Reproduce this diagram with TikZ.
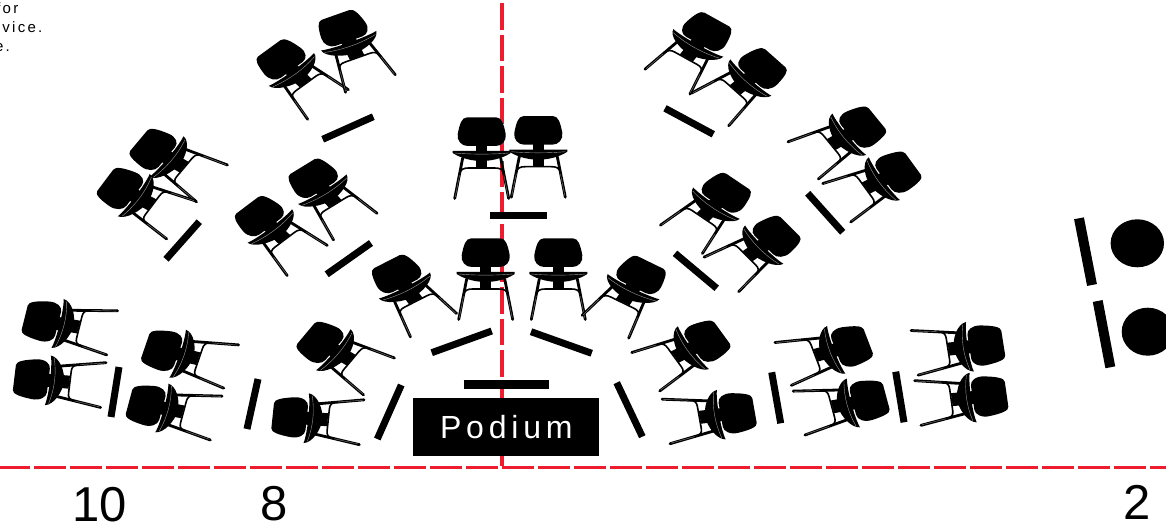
\documentclass[tikz,border=0pt]{standalone}
\usepackage{fontspec}
\setmainfont{Liberation Sans}
\newfontfamily\spaced[LetterSpace=15]{Liberation Sans}
\definecolor{redline}{RGB}{237,28,46}
\tikzset{
  barline/.style={line width=7pt,black},
  redh/.style={redline,line width=3pt,dash pattern=on 32pt off 4pt},
  redv/.style={redline,line width=3.5pt,dash pattern=on 26.5pt off 5pt},
  leg/.style={black,line width=2.8pt},
  legin/.style={black!50,line width=.4pt},
  numlabel/.style={inner sep=0pt,anchor=base,font=\fontsize{49}{49}\selectfont},
  notelabel/.style={inner sep=0pt,anchor=base east,font=\spaced\fontsize{15}{15}\selectfont},
  chair/.pic={
    \fill[black] (-15,-14.5) -- (15,-14.5) .. controls (20,-14.5) and (22,-8) .. (24,2)
      .. controls (25,9) and (20,14) .. (14,14) -- (-14,14)
      .. controls (-20,14) and (-25,9) .. (-24,2)
      .. controls (-22,-8) and (-20,-14.5) .. (-15,-14.5) -- cycle;
    \fill[black] (-5.5,13) rectangle (5.5,20);
    \fill[black] (-5.5,26) rectangle (5.5,35);
    \draw[leg,line cap=round] (-19,26) -- (-27,66.5);
    \draw[leg,line cap=round] (19,26) -- (27,66.5);
    \draw[legin] (-21.5,40) -- (-26.5,65);
    \draw[legin] (21.5,40) -- (26.5,65);
    \draw[black,line width=1.6pt] (-22.5,43) .. controls (-21.5,37) and (-18,36) .. (-13,36)
      -- (13,36) .. controls (18,36) and (21.5,37) .. (22.5,43);
    \fill[black] (-29,19) -- (29,19) -- (29,21) .. controls (20,27) and (8,29) .. (0,29)
      .. controls (-8,29) and (-20,27) .. (-29,21) -- cycle;
    \draw[white!60!black,line width=.4pt] (-27,21) .. controls (-10,22.5) and (10,22.5) .. (27,21);
  },
  chairb/.pic={
    \fill[black] (-12.5,-14.5) -- (12.5,-14.5) .. controls (16.5,-14.5) and (18.5,-8) .. (20,2)
      .. controls (21,9) and (17,14) .. (12,14) -- (-12,14)
      .. controls (-17,14) and (-21,9) .. (-20,2)
      .. controls (-18.5,-8) and (-16.5,-14.5) .. (-12.5,-14.5) -- cycle;
    \fill[black] (-6.5,13) rectangle (6.5,17);
    \fill[black] (-6.5,22) rectangle (6.5,31.5);
    \draw[leg,line cap=round] (-15,21) -- (-22.5,60);
    \draw[leg,line cap=round] (15,21) -- (22.5,60);
    \draw[legin] (-18,36) -- (-22,59);
    \draw[legin] (18,36) -- (22,59);
    \draw[black,line width=1.6pt] (-18.5,38.5) .. controls (-17.5,33) and (-15,32) .. (-11,32)
      -- (11,32) .. controls (15,32) and (17.5,33) .. (18.5,38.5);
    \fill[black] (-25,13.5) .. controls (-15,16) and (15,16) .. (25,13.5)
      .. controls (24,21) and (10,27) .. (0,27)
      .. controls (-10,27) and (-24,21) .. (-25,13.5) -- cycle;
    \draw[white!60!black,line width=.4pt] (-23,16.5) .. controls (-8,20) and (8,20) .. (23,16.5);
  }
}
\begin{document}
\begin{tikzpicture}[x=1pt,y=-1pt]
\useasboundingbox (0,0) rectangle (1166,526);
\fill[white] (0,0) rectangle (1166,526);
% red axes
\draw[redv] (502,3.5) -- (502,466);
\draw[redh] (-2.5,467.7) -- (1166,467.7);
% upright chairs
\foreach \cx/\cy in {485.7/253, 558.3/253, 481.7/132, 538.3/130.7}{
  \pic at (\cx,\cy) {chair};
}
% turned chairs: back centre x / y / rotation
\foreach \cx/\cy/\ca in {
  41.7/320.7/78.3, 31.7/379/84.2, 162/350/74, 146/405/77.4,
  290/417/85, 320/342/55, 396/274/31.4,
  153/149/55, 120/188/57.9, 280.7/59.3/41.1, 342.3/28.3/23,
  259/216/42.1, 312.7/178.3/36.3,
  707.3/31.7/-33.6, 762.7/68.3/-46.8, 862.7/126.7/-55.8, 898.3/171.7/-58.8,
  726.7/192.7/-39, 776.7/236/-50.2,
  641.7/275/-30.3, 707.3/340.7/-58.8, 737.3/412.7/-81.6,
  851.7/345.7/-72.3, 869.3/400/-77.4, 986/345/-82.5, 989.3/396/-83.3
}{
  \pic[xscale=1.2,rotate=\ca] at (\cx,\cy) {chairb};
}
% bars
\foreach \ax/\ay/\bx/\by in {
  119/367/111/417, 258/379/247/429, 401.3/385/377.3/439,
  431.7/352.7/491.7/331, 326.7/274.3/371/243, 166/259.3/199.3/221.7,
  322.7/139.3/373.3/116.7, 665/108.3/713.3/134.3, 807.7/193.3/842.7/232.3,
  675/253.3/716.7/288.3, 531/331.7/591.7/353.3, 616.7/382.7/642.3/436.7,
  771.7/372.3/780.7/423.3, 895.7/371.7/904/422.3
}{
  \draw[barline] (\ax,\ay) -- (\bx,\by);
}
\draw[barline,line width=6.5pt] (490,215.3) -- (547.3,215.3);
\draw[barline,line width=9pt] (463.7,384.3) -- (549.3,384.3);
\draw[barline,line width=10pt] (1079,218.3) -- (1092,285);
\draw[barline,line width=10pt] (1097.7,301) -- (1110.3,367.3);
% circles
\fill[black] (1137.3,243.3) ellipse [x radius=26.7pt,y radius=24pt];
\fill[black] (1147.7,331.7) ellipse [x radius=26pt,y radius=24pt];
% podium
\node[fill=black,text=white,minimum width=186pt,minimum height=57.7pt,inner sep=0pt,
      font=\spaced\fontsize{32}{32}\selectfont] (podium) at (506.3,427.2) {Podium};
% numbers
\node[numlabel] (n10) at (99.5,521) {10};
\node[numlabel] (n8) at (273.7,520.5) {8};
\node[numlabel] (n2) at (1137,519.5) {2};
% clipped note at the corner
\node[notelabel] (note1) at (18.5,14) {for};
\node[notelabel] (note2) at (42.5,32.7) {dvice.};
\node[notelabel] (note3) at (10,51.7) {e.};
\end{tikzpicture}
\end{document}
